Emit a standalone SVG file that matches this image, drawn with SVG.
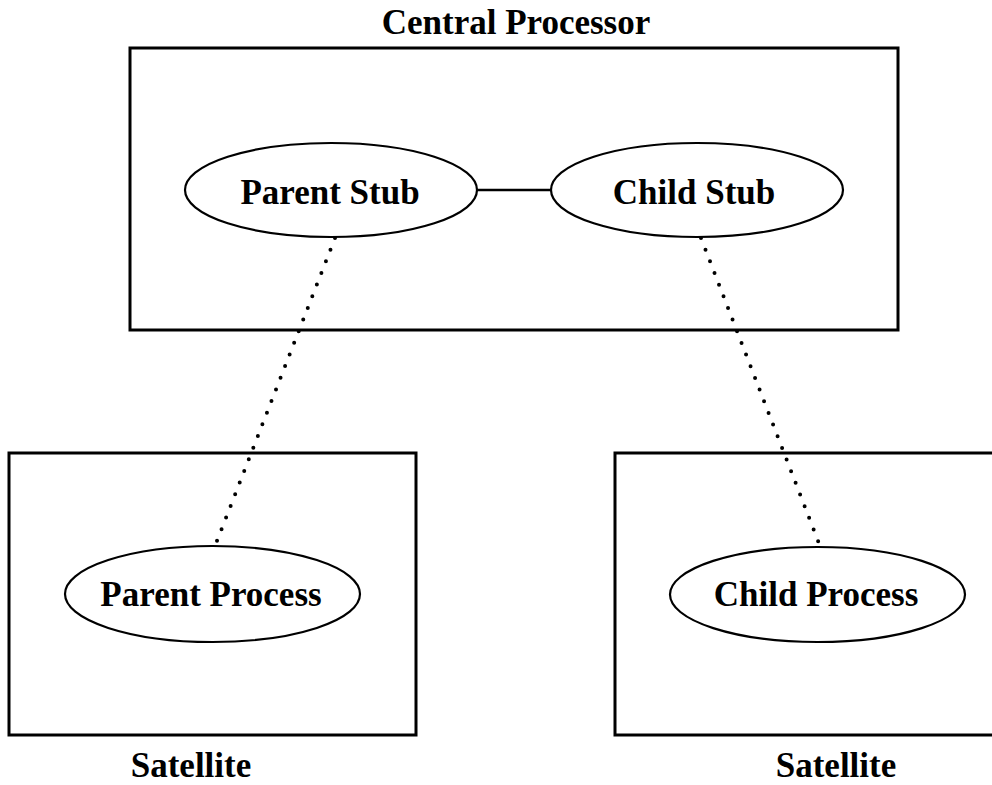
<svg xmlns="http://www.w3.org/2000/svg" width="992" height="785" viewBox="0 0 992 785">
<style>
  .box { fill: none; stroke: #000; stroke-width: 3; }
  .oval { fill: none; stroke: #000; stroke-width: 2.2; }
  .lbl { font-family: "Liberation Serif", "Times New Roman", serif; font-weight: bold; font-size: 35px; fill: #000; text-anchor: middle; }
  .solid { stroke: #000; stroke-width: 2.5; fill: none; }
  .dots { stroke: #000; stroke-width: 4; stroke-linecap: round; stroke-dasharray: 0 12.5; fill: none; }
</style>
<rect x="0" y="0" width="992" height="785" fill="#fff"/>
<g id="central-processor">
  <rect class="box" x="130" y="48" width="768" height="282"/>
  <text class="lbl" x="516" y="34">Central Processor</text>
</g>
<g id="satellite-left">
  <rect class="box" x="9" y="453" width="407" height="282"/>
  <text class="lbl" x="191" y="777">Satellite</text>
</g>
<g id="satellite-right">
  <rect class="box" x="615" y="453" width="400" height="282"/>
  <text class="lbl" x="836" y="777">Satellite</text>
</g>
<g id="parent-stub">
  <ellipse class="oval" cx="331" cy="190" rx="146" ry="47"/>
  <text class="lbl" x="330" y="204">Parent Stub</text>
</g>
<g id="child-stub">
  <ellipse class="oval" cx="697" cy="190" rx="146" ry="47"/>
  <text class="lbl" x="694" y="204">Child Stub</text>
</g>
<g id="parent-process">
  <ellipse class="oval" cx="212.5" cy="594" rx="147.5" ry="48"/>
  <text class="lbl" x="211" y="606">Parent Process</text>
</g>
<g id="child-process">
  <ellipse class="oval" cx="817.5" cy="594.5" rx="147.5" ry="47.5"/>
  <text class="lbl" x="816" y="606">Child Process</text>
</g>
<g id="connectors">
  <line class="solid" x1="477" y1="190" x2="551" y2="190"/>
  <line class="dots" x1="335" y1="238" x2="215" y2="546"/>
  <line class="dots" x1="701" y1="238" x2="820" y2="546"/>
</g>
</svg>
